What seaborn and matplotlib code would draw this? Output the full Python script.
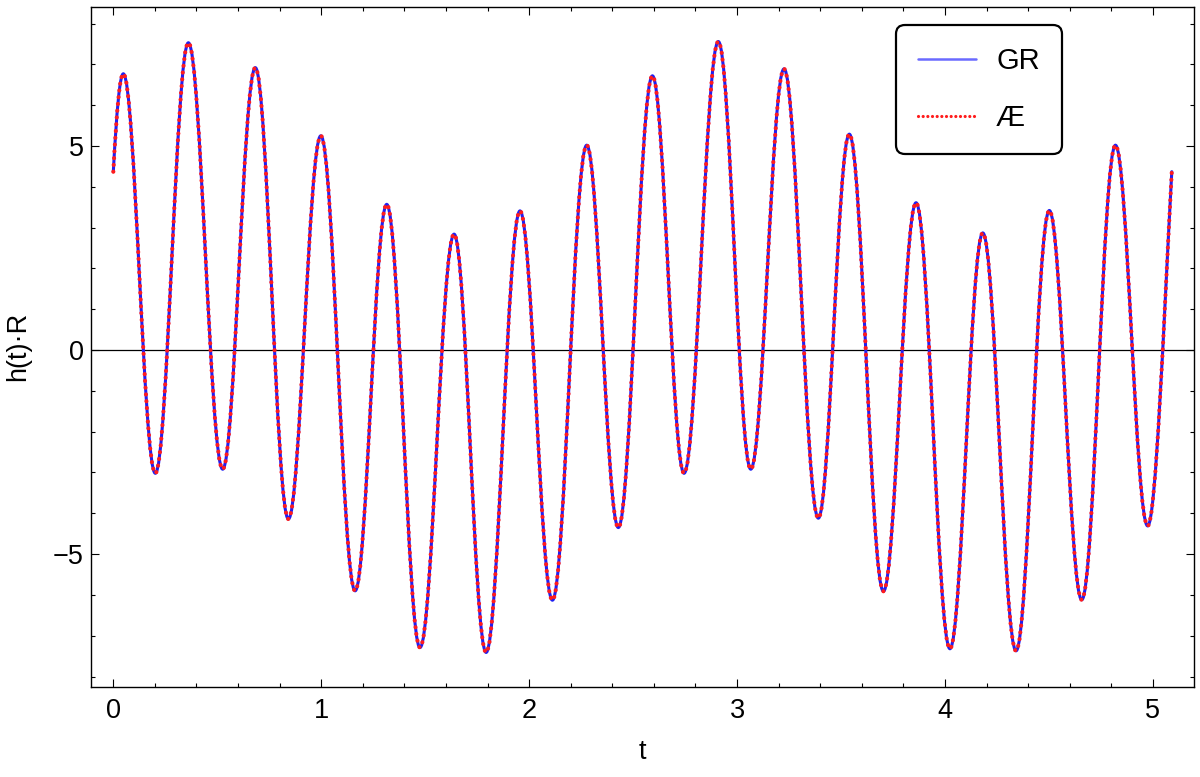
import matplotlib
matplotlib.use("Agg")
import numpy as np
import pandas as pd
import seaborn as sns
import matplotlib.pyplot as plt
from matplotlib.path import Path
from matplotlib.patches import PathPatch
from matplotlib.lines import Line2D
from matplotlib.ticker import MultipleLocator, FixedLocator

# ---------------- data ----------------
series_labels = ["GR", "Æ"]
t_start, h_start = 0.0, 4.37
t_end, h_end = 5.091, 4.37
peak_t = [0.048, 0.361, 0.683, 0.998, 1.315, 1.639, 1.956, 2.277,
          2.593, 2.910, 3.226, 3.540, 3.861, 4.182, 4.502, 4.820]
peak_h = [6.77, 7.53, 6.92, 5.25, 3.57, 2.84, 3.41, 5.02,
          6.72, 7.56, 6.89, 5.29, 3.61, 2.87, 3.42, 5.02]
trough_t = [0.202, 0.526, 0.842, 1.163, 1.475, 1.793, 2.112, 2.429,
            2.745, 3.066, 3.391, 3.704, 4.024, 4.342, 4.658, 4.975]
trough_h = [-3.02, -2.92, -4.14, -5.90, -7.29, -7.41, -6.13, -4.35,
            -3.02, -2.92, -4.12, -5.91, -7.32, -7.37, -6.12, -4.31]
edge_slope = 95.0          # steepness of the curve where it starts / ends
x_ticks = [0, 1, 2, 3, 4, 5]
y_ticks = [-5, 0, 5]

# ---------------- style ----------------
sns.set_theme(style="ticks")
plt.rcParams["font.family"] = ["Liberation Sans", "DejaVu Sans"]
plt.rcParams["axes.unicode_minus"] = True

fig = plt.figure(figsize=(12, 7.77), dpi=100)
ax = fig.add_axes([0.0756, 0.1162, 0.9197, 0.8752])
ax.set_facecolor("white")

ext = pd.DataFrame({"t": peak_t + trough_t, "h": peak_h + trough_h}).sort_values("t")
et, eh = ext["t"].to_numpy(), ext["h"].to_numpy()


def wave_path():
    """Smooth path through the read extrema (horizontal tangents there)."""
    verts = [(t_start, h_start)]
    codes = [Path.MOVETO]
    d = et[0] - t_start
    verts += [(t_start + d / 3, h_start + edge_slope * d / 3),
              (et[0] - d / 3, eh[0]), (et[0], eh[0])]
    codes += [Path.CURVE4] * 3
    c = 0.3634
    for i in range(len(et) - 1):
        d = et[i + 1] - et[i]
        verts += [(et[i] + c * d, eh[i]), (et[i + 1] - c * d, eh[i + 1]),
                  (et[i + 1], eh[i + 1])]
        codes += [Path.CURVE4] * 3
    d = t_end - et[-1]
    verts += [(et[-1] + d / 3, eh[-1]), (t_end - d / 3, h_end - edge_slope * d / 3),
              (t_end, h_end)]
    codes += [Path.CURVE4] * 3
    return Path(verts, codes)


blue = "#1e1ef2"
red = "#ff1c1c"

ax.axhline(0, color="black", lw=0.9, zorder=2)
gr = PathPatch(wave_path(), fill=False, edgecolor=blue, lw=2.2,
               capstyle="round", joinstyle="round", zorder=3)
ae = PathPatch(wave_path(), fill=False, edgecolor=red, lw=3.0,
               linestyle=(0, (0.01, 1.62)), capstyle="round",
               joinstyle="round", zorder=4)
ax.add_patch(gr)
ax.add_patch(ae)

ax.set_xlim(-0.1087, 5.1996)
ax.set_ylim(-8.25, 8.414)

ax.xaxis.set_major_locator(FixedLocator(x_ticks))
ax.xaxis.set_minor_locator(MultipleLocator(0.2))
ax.yaxis.set_major_locator(FixedLocator(y_ticks))
ax.yaxis.set_minor_locator(MultipleLocator(1))
ax.tick_params(which="both", direction="in", top=True, right=True,
               color="black", width=0.8, labelsize=19.5, labelcolor="black")
ax.tick_params(which="major", length=5.5)
ax.tick_params(which="minor", length=3)
ax.tick_params(axis="x", pad=8)
ax.tick_params(axis="y", pad=5)
for s in ax.spines.values():
    s.set_color("black")
    s.set_linewidth(1.0)
    s.set_visible(True)

ax.set_xlabel("t", fontsize=19.5, color="black", labelpad=11)
ax.set_ylabel("h(t)·R", fontsize=19.5, color="black", labelpad=16)

handles = [Line2D([], [], color="#6a6aff", lw=1.8),
           Line2D([], [], color=red, lw=2.3, linestyle=(0, (0.01, 1.45)),
                  dash_capstyle="round")]
leg = ax.legend(handles, series_labels, loc="upper left",
                bbox_to_anchor=(0.7297, 0.9731), borderaxespad=0,
                fontsize=21, handlelength=1.98, handletextpad=0.7,
                labelspacing=1.0, borderpad=0.75, frameon=True,
                fancybox=True, framealpha=1)
fr = leg.get_frame()
fr.set_edgecolor("black")
fr.set_linewidth(1.6)
fr.set_boxstyle("round,pad=0,rounding_size=0.3")
for txt in leg.get_texts():
    txt.set_color("black")

fig.savefig("out.png", dpi=100, facecolor="white")
